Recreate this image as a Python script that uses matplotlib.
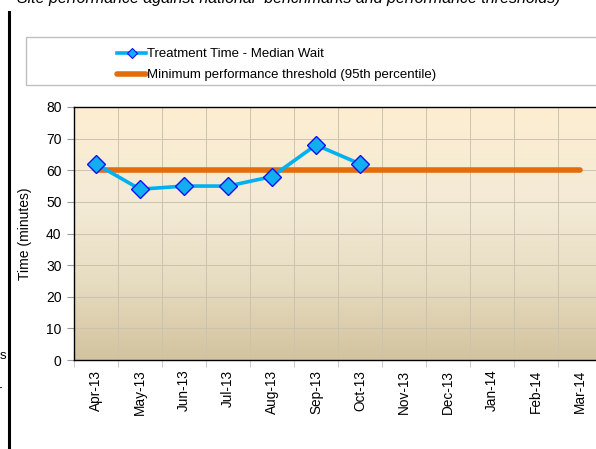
import matplotlib
matplotlib.use("Agg")
import matplotlib.pyplot as plt
import numpy as np
from matplotlib.lines import Line2D
from matplotlib.patches import Rectangle
from matplotlib.colors import LinearSegmentedColormap

months = ["Apr-13", "May-13", "Jun-13", "Jul-13", "Aug-13", "Sep-13",
          "Oct-13", "Nov-13", "Dec-13", "Jan-14", "Feb-14", "Mar-14"]
median_wait = [62, 54, 55, 55, 58, 68, 62]
threshold = [60] * 12
yticks = [0, 10, 20, 30, 40, 50, 60, 70, 80]

plt.rcParams['font.family'] = ['Liberation Sans', 'DejaVu Sans']

W, H = 596, 449
fig = plt.figure(figsize=(W / 100, H / 100), dpi=100)

def fx(px):
    return px / W

def fy(py):
    return 1 - py / H

# axes
left, right, top, bottom = 74, 602, 107, 360
ax = fig.add_axes([fx(left), fy(bottom), (right - left) / W, (bottom - top) / H])

x = np.arange(len(months))
ax.set_xlim(-0.5, 11.5)
ax.set_ylim(0, 80)

# gradient background
cmap = LinearSegmentedColormap.from_list(
    "bg", [(0.0, "#d3c39e"), (0.3, "#e6dcc0"), (0.6, "#f3ead6"), (1.0, "#fdeed1")])
grad = np.linspace(0, 1, 256).reshape(-1, 1)
ax.imshow(grad, aspect='auto', cmap=cmap, origin='lower',
          extent=[-0.5, 11.5, 0, 80], zorder=0)

ax.set_xticks(x)
ax.set_xticklabels(months, rotation=90, fontsize=9.8)
ax.set_xticks(np.arange(-0.5, 12, 1), minor=True)
ax.tick_params(axis='x', which='major', length=0, pad=7)
ax.tick_params(axis='x', which='minor', length=5, color='#bfbfbf')
ax.set_yticks(yticks)
ax.tick_params(axis='y', labelsize=10, length=5, color='#9a9a9a', pad=4)
ax.grid(True, which='minor', axis='x', color='#cbc3b1', linewidth=0.7)
ax.grid(True, which='major', axis='y', color='#cbc3b1', linewidth=0.7)
ax.set_axisbelow(True)
for s in ['left', 'bottom', 'top']:
    ax.spines[s].set_color('black')
    ax.spines[s].set_linewidth(1.0)
ax.spines['right'].set_visible(False)

ax.set_ylabel("Time (minutes)", fontsize=10, labelpad=10)

ax.plot(x, threshold, color='#e46c0a', linewidth=4.0, solid_capstyle='round',
        zorder=3, label="Minimum performance threshold (95th percentile)")
ax.plot(x[:len(median_wait)], median_wait, color='#00b0f0', linewidth=2.6,
        marker='D', markersize=9, markerfacecolor='#12aef0',
        markeredgecolor='#1010f0', markeredgewidth=1.0, zorder=4,
        label="Treatment Time - Median Wait")

# legend box
fig.patches.append(Rectangle((fx(26), fy(85)), fx(600) - fx(26), (85 - 37) / H,
                             transform=fig.transFigure, facecolor='white',
                             edgecolor='#bfbfbf', linewidth=1.0, zorder=1))
h_line = Line2D([], [], color='#00b0f0', linewidth=2.6, marker='D', markersize=5,
                markerfacecolor='#12aef0', markeredgecolor='#1010f0', markeredgewidth=0.8)
h_thr = Line2D([], [], color='#e46c0a', linewidth=4.0, solid_capstyle='round')
leg = fig.legend([h_line, h_thr],
                 ["Treatment Time - Median Wait",
                  "Minimum performance threshold (95th percentile)"],
                 loc='upper left', bbox_to_anchor=(fx(108), fy(39)),
                 frameon=False, fontsize=9.5, handlelength=2.2, handletextpad=0.05,
                 labelspacing=0.65, borderpad=0.2)

# title (clipped at top, as in the source)
fig.text(fx(17), fy(-2), "Site performance against national  benchmarks and performance thresholds)",
         fontsize=11.5, style='italic', ha='left', va='center')

# left black rule
fig.add_artist(Line2D([fx(9), fx(9)], [fy(12), 0], transform=fig.transFigure,
                      color='black', linewidth=2.2))
# fragments of cut text at the left edge
fig.text(fx(6), fy(356), "s", fontsize=9.5, ha='right', va='center')
fig.text(fx(2), fy(388), "-", fontsize=9.5, ha='right', va='center')

fig.savefig("out.png", dpi=100)
